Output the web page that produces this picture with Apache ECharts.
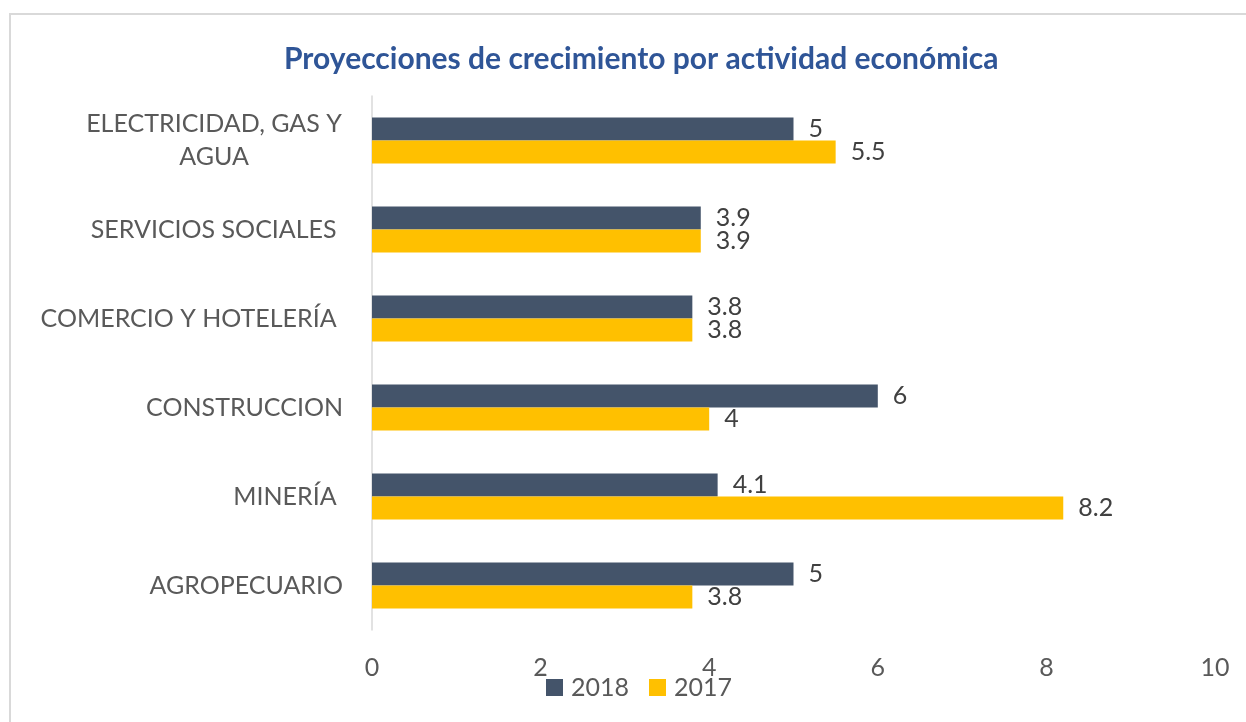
<!DOCTYPE html>
<html>
<head>
<meta charset="utf-8">
<script src="https://cdn.jsdelivr.net/npm/echarts@6/dist/echarts.min.js"></script>
<style>
  html, body { margin: 0; padding: 0; background: #fff; }
  #chart { width: 1246px; height: 722px; }
</style>
</head>
<body>
<div id="chart"></div>
<script>
// categories from bottom to top (category axis on y runs upward)
const categories = ['AGROPECUARIO', 'MINERÍA ', 'CONSTRUCCION', 'COMERCIO Y HOTELERÍA ', 'SERVICIOS SOCIALES ', 'ELECTRICIDAD, GAS Y AGUA'];
const values2018 = [5, 4.1, 6, 3.8, 3.9, 5];
const values2017 = [3.8, 8.2, 4, 3.8, 3.9, 5.5];
const xTicks = [0, 2, 4, 6, 8, 10];

const FONT = 'Lato';
const myChart = echarts.init(document.getElementById('chart'));

const valueLabel = {
    show: true,
    position: 'right',
    distance: 15,
    color: '#404040',
    fontSize: 25,
    fontFamily: FONT
};

const option = {
    backgroundColor: '#fff',
    textStyle: { fontFamily: FONT },
    title: {
        text: 'Proyecciones de crecimiento por actividad económica',
        left: 279,
        top: 39,
        textStyle: { color: '#2F5597', fontSize: 30, fontWeight: 'bold', fontFamily: FONT }
    },
    graphic: [{
        type: 'rect',
        shape: { x: 10, y: 14, width: 1260, height: 740 },
        style: { fill: 'none', stroke: '#d9d9d9', lineWidth: 2 },
        silent: true
    }],
    legend: {
        bottom: 17,
        left: 541,
        itemWidth: 17,
        itemHeight: 17,
        itemGap: 20,
        icon: 'rect',
        textStyle: { color: '#595959', fontSize: 25, fontFamily: FONT, padding: [0, 0, 0, 3] },
        data: ['2018', '2017']
    },
    grid: { left: 372, right: 31, top: 96, bottom: 92 },
    xAxis: {
        type: 'value',
        min: 0,
        max: 10,
        interval: 2,
        axisLine: { show: false },
        axisTick: { show: false },
        splitLine: { show: false },
        axisLabel: {
            color: '#595959',
            fontSize: 25,
            fontFamily: FONT,
            margin: 25,
            formatter: v => xTicks.includes(v) ? String(v) : ''
        }
    },
    yAxis: {
        type: 'category',
        data: categories,
        axisLine: { show: true, lineStyle: { color: '#d9d9d9', width: 1.5 } },
        axisTick: { show: false },
        axisLabel: {
            color: '#595959',
            fontSize: 25,
            fontFamily: FONT,
            margin: 29,
            formatter: v => v.startsWith('ELECTRICIDAD') ? '{c|ELECTRICIDAD, GAS Y}\n{c|AGUA}' : v,
            rich: {
                c: { width: 258, align: 'center', color: '#595959', fontSize: 25, fontFamily: FONT, lineHeight: 33 }
            }
        }
    },
    series: [
        {
            name: '2018',
            type: 'bar',
            data: values2018,
            barWidth: 23,
            barGap: '0%',
            itemStyle: { color: '#44546A' },
            label: valueLabel
        },
        {
            name: '2017',
            type: 'bar',
            data: values2017,
            barWidth: 23,
            itemStyle: { color: '#FFC000' },
            label: valueLabel
        }
    ]
};

myChart.setOption(option);
</script>
</body>
</html>
